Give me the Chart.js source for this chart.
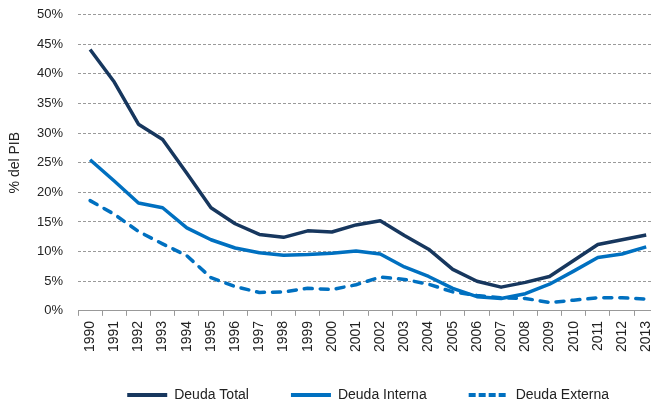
<!DOCTYPE html>
<html><head><meta charset="utf-8">
<script src="https://cdn.jsdelivr.net/npm/chart.js@4/dist/chart.umd.min.js"></script>
<style>
html,body{margin:0;padding:0;background:#fff;overflow:hidden;width:651px;height:404px}
#wrap{position:relative;width:668px;height:412px}
</style></head>
<body><div id="wrap"><canvas id="c"></canvas></div>
<script>
const years = ['1990','1991','1992','1993','1994','1995','1996','1997','1998','1999','2000','2001','2002','2003','2004','2005','2006','2007','2008','2009','2010','2011','2012','2013'];
const deudaTotal   = [44.1,38.6,31.5,28.9,23.2,17.4,14.7,12.9,12.4,13.5,13.3,14.5,15.2,12.7,10.4,7.0,5.0,4.0,4.8,5.8,8.5,11.2,12.0,12.8];
const deudaInterna = [25.5,21.9,18.2,17.4,14.0,12.0,10.6,9.8,9.4,9.5,9.7,10.1,9.6,7.4,5.8,3.8,2.4,2.1,2.9,4.5,6.7,9.0,9.6,10.8];
const deudaExterna = [18.6,16.3,13.4,11.3,9.3,5.6,4.1,3.1,3.2,3.8,3.6,4.4,5.7,5.3,4.5,3.2,2.6,2.2,2.1,1.4,1.8,2.2,2.2,2.0];
const yTicks = [0,5,10,15,20,25,30,35,40,45,50];

const FONT = "'Liberation Sans', Arial, sans-serif";
const LEGEND_SHIFT = 11;

const legendTighten = {
  id: 'legendTighten',
  beforeLayout(chart) {
    const lg = chart.legend;
    if (!lg || lg._tightened) return;
    lg._tightened = true;
    const origFit = lg.fit.bind(lg);
    lg.fit = function () { origFit(); this.height -= LEGEND_SHIFT; };
    const origDraw = lg.draw.bind(lg);
    lg.draw = function () {
      const ctx = this.ctx; ctx.save(); ctx.translate(0, -LEGEND_SHIFT); origDraw(); ctx.restore();
    };
  }
};

new Chart(document.getElementById('c'), {
  type: 'line',
  data: {
    labels: years,
    datasets: [
      {label:'Deuda Total', data: deudaTotal, borderColor:'#17375E', backgroundColor:'#17375E', borderWidth:3.5, borderJoinStyle:'round', pointRadius:0, tension:0},
      {label:'Deuda Interna', data: deudaInterna, borderColor:'#0070C0', backgroundColor:'#0070C0', borderWidth:3.5, borderJoinStyle:'round', pointRadius:0, tension:0},
      {label:'Deuda Externa', data: deudaExterna, borderColor:'#0070C0', backgroundColor:'#0070C0', borderWidth:3.5, borderDash:[8,8], borderCapStyle:'round', borderJoinStyle:'round', pointRadius:0, tension:0}
    ]
  },
  plugins: [legendTighten],
  options: {
    responsive: true,
    maintainAspectRatio: false,
    animation: false,
    layout: {padding: {top: 0, right: 0, left: 0, bottom: 0}},
    plugins: {
      tooltip: {enabled:false},
      legend: {
        position: 'bottom',
        align: 'center',
        fullSize: false,
        labels: {
          usePointStyle: true,
          pointStyle: 'line',
          pointStyleWidth: 40,
          boxHeight: 4,
          boxWidth: 36,
          padding: 42,
          color: '#222',
          font: {family: FONT, size: 14},
          generateLabels: (chart) => {
            const items = Chart.defaults.plugins.legend.labels.generateLabels(chart);
            items.forEach(it => {
              const ds = chart.data.datasets[it.datasetIndex];
              it.lineDash = ds.borderDash ? [7,3] : [];
              it.lineCap = 'butt';
              it.lineWidth = 4;
            });
            return items;
          }
        }
      }
    },
    scales: {
      x: {
        offset: true,
        border: {display: true, color: '#999', width: 1},
        grid: {offset: true, drawOnChartArea: false, drawTicks: true, tickLength: 5, color: '#999'},
        ticks: {minRotation: 90, maxRotation: 90, autoSkip: false, color: '#222', padding: 5, font: {family: FONT, size: 14}}
      },
      y: {
        min: 0, max: 50,
        afterBuildTicks: (ax) => { ax.ticks = yTicks.map(v => ({value: v})); },
        afterFit: (s) => { s.width = 78; s.paddingTop = 14.5; s.paddingBottom = 0; },
        border: {display: false, dash: [3,2]},
        grid: {color: (ctx) => ctx.tick && ctx.tick.value === 0 ? 'rgba(0,0,0,0)' : '#9a9a9a', drawTicks: false, lineWidth: 1},
        ticks: {padding: 15, color: '#222', font: {family: FONT, size: 13}, callback: (v) => v + '%'},
        title: {display: true, text: '% del PIB', color: '#222', font: {family: FONT, size: 14}, padding: {top: 7, bottom: 4}}
      }
    }
  }
});
</script></body></html>
